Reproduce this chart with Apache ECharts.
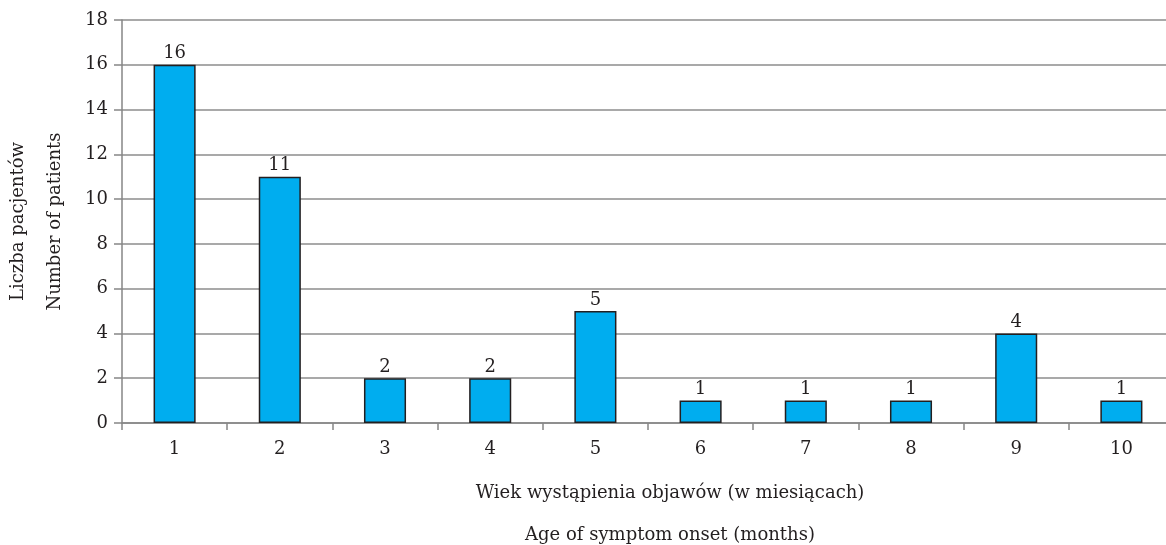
<!DOCTYPE html>
<html><head><meta charset="utf-8">
<script src="https://cdn.jsdelivr.net/npm/echarts@6/dist/echarts.min.js"></script>
<style>html,body{margin:0;padding:0;background:#fff}#c{width:1166px;height:545px}</style>
</head><body><div id="c"></div>
<script>
const categories = ['1','2','3','4','5','6','7','8','9','10'];
const patients = [16, 11, 2, 2, 5, 1, 1, 1, 4, 1];
const yTitle = ['Liczba pacjentów', 'Number of patients'];
const xTitle = ['Wiek wystąpienia objawów (w miesiącach)', 'Age of symptom onset (months)'];

const font = 'DejaVu Serif';
const txt = '#231f20';
const chart = echarts.init(document.getElementById('c'), null, {renderer: 'canvas'});
chart.setOption({
  animation: false,
  grid: {left: 122, right: -8, top: 20, bottom: 122, containLabel: false, outerBoundsMode: 'none'},
  xAxis: {
    type: 'category', data: categories,
    name: xTitle.join('\n'), nameLocation: 'middle', nameGap: 49,
    nameTextStyle: {fontFamily: font, fontSize: 18, color: txt, lineHeight: 42, padding: [0, 0, 0, 44]},
    axisLine: {lineStyle: {color: '#868686', width: 1.5}},
    axisTick: {show: true, length: 7, lineStyle: {color: '#868686', width: 1.5}},
    axisLabel: {fontFamily: font, fontSize: 18, color: txt, margin: 17}
  },
  yAxis: {
    type: 'value', min: 0, max: 18, interval: 2,
    name: yTitle.join('\n'), nameLocation: 'middle', nameGap: 46, nameRotate: 90,
    nameTextStyle: {fontFamily: font, fontSize: 18, color: txt, lineHeight: 37},
    axisLine: {show: true, lineStyle: {color: '#868686', width: 1.5}},
    axisTick: {show: true, length: 8, lineStyle: {color: '#868686', width: 1.5}},
    axisLabel: {fontFamily: font, fontSize: 18, color: txt, margin: 14},
    splitLine: {lineStyle: {color: '#8c8c8c', width: 1.5}}
  },
  series: [{
    type: 'bar', data: patients, barWidth: '40%',
    itemStyle: {color: '#00adef', borderColor: '#231f20', borderWidth: 1.5},
    label: {show: true, position: 'top', distance: 2, fontFamily: font, fontSize: 18, color: txt}
  }]
});
</script></body></html>
